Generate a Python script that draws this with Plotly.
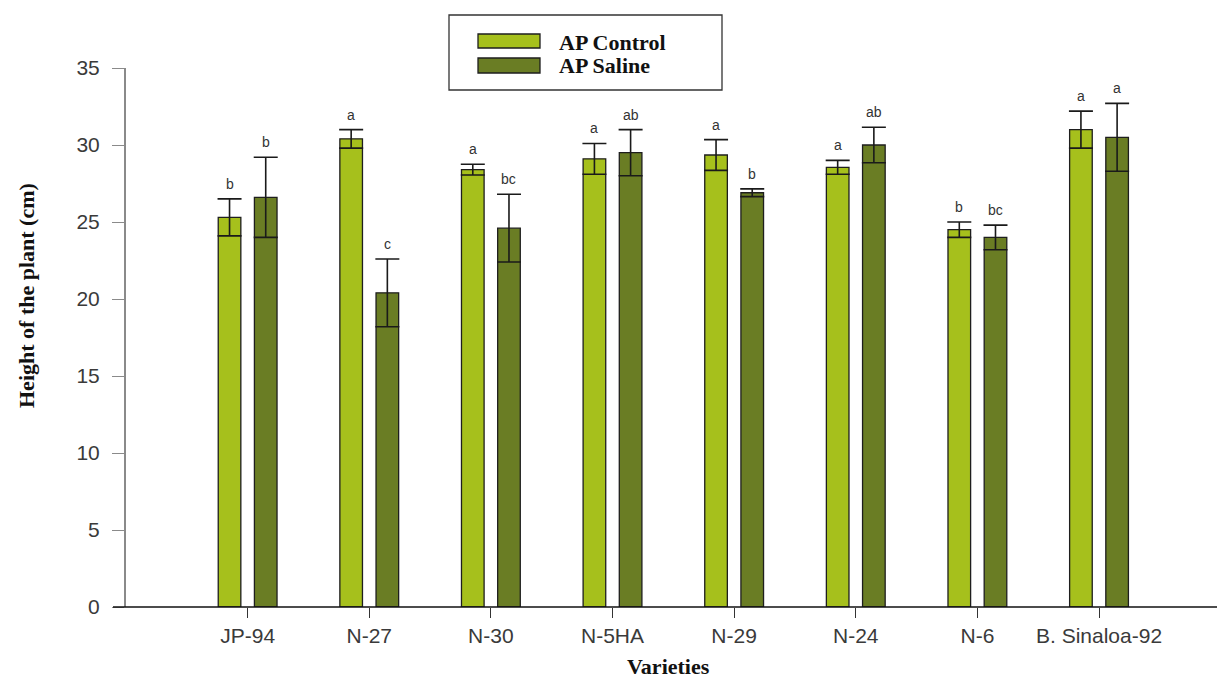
import plotly.graph_objects as go

# ---- data -------------------------------------------------------------
varieties = ["JP-94", "N-27", "N-30", "N-5HA", "N-29", "N-24", "N-6", "B. Sinaloa-92"]

control_mean = [25.3, 30.4, 28.4, 29.1, 29.35, 28.55, 24.5, 31.0]
control_err = [1.2, 0.6, 0.35, 1.0, 1.0, 0.45, 0.5, 1.2]
control_letters = ["b", "a", "a", "a", "a", "a", "b", "a"]

saline_mean = [26.6, 20.4, 24.6, 29.5, 26.9, 30.0, 24.0, 30.5]
saline_err = [2.6, 2.2, 2.2, 1.5, 0.25, 1.15, 0.8, 2.2]
saline_letters = ["b", "c", "bc", "ab", "b", "ab", "bc", "a"]

y_ticks = [0, 5, 10, 15, 20, 25, 30, 35]

# ---- style ------------------------------------------------------------
W, H = 1217, 682
M_L, M_R, M_T, M_B = 126, 0, 68, 75
CONTROL_COLOR = "#a6c01c"
SALINE_COLOR = "#6a7d24"
OUTLINE = "#1e1e1e"
BARGAP = 0.405
BARGROUPGAP = 0.375
TICK_FONT = dict(family="Liberation Sans, Arial, sans-serif", size=21, color="#3a3a3a")
SERIF_BOLD = "Liberation Serif, Times New Roman, serif"

plot_w = W - M_L - M_R
plot_h = H - M_T - M_B


def px_x(x):
    return (x - M_L) / plot_w


def px_y(y):
    return (H - M_B - y) / plot_h


fig = go.Figure()

for name, means, errs, color in [
    ("AP Control", control_mean, control_err, CONTROL_COLOR),
    ("AP Saline", saline_mean, saline_err, SALINE_COLOR),
]:
    fig.add_trace(go.Bar(
        x=varieties, y=means, name=name,
        marker=dict(color=color, line=dict(color=OUTLINE, width=1.3)),
        error_y=dict(type="data", array=errs, visible=True,
                     color="#1a1a1a", thickness=1.6, width=12),
        showlegend=False,
    ))

# significance letters above each error bar
offset = (1 - BARGAP) / 4
annotations = []
for i in range(len(varieties)):
    for sign, means, errs, letters in [(-1, control_mean, control_err, control_letters),
                                       (1, saline_mean, saline_err, saline_letters)]:
        annotations.append(dict(
            x=i + sign * offset, y=means[i] + errs[i], xref="x", yref="y",
            text=letters[i], showarrow=False, xanchor="center", yanchor="bottom", yshift=5,
            font=dict(family="Liberation Sans, Arial, sans-serif", size=14, color="#333333"),
        ))

# axis titles
annotations.append(dict(
    x=px_x(26), y=px_y(296), xref="paper", yref="paper",
    xanchor="center", yanchor="middle",
    text="<b>Height of the plant (cm)</b>", textangle=-90, showarrow=False,
    font=dict(family=SERIF_BOLD, size=22, color="#111111"),
))
annotations.append(dict(
    x=px_x(668), y=px_y(666), xref="paper", yref="paper",
    xanchor="center", yanchor="middle",
    text="<b>Varieties</b>", showarrow=False,
    font=dict(family=SERIF_BOLD, size=22, color="#111111"),
))

# legend drawn as a framed box with swatches
shapes = [
    dict(type="rect", xref="paper", yref="paper",
         x0=px_x(449), x1=px_x(722), y0=px_y(90), y1=px_y(15),
         line=dict(color="#333333", width=1.3), fillcolor="white"),
    dict(type="rect", xref="paper", yref="paper",
         x0=px_x(478), x1=px_x(540), y0=px_y(48), y1=px_y(34),
         line=dict(color=OUTLINE, width=1.3), fillcolor=CONTROL_COLOR),
    dict(type="rect", xref="paper", yref="paper",
         x0=px_x(478), x1=px_x(540), y0=px_y(73), y1=px_y(58),
         line=dict(color=OUTLINE, width=1.3), fillcolor=SALINE_COLOR),
    # baseline extends a little past the y axis
    dict(type="line", xref="paper", yref="paper",
         x0=px_x(113), x1=1, y0=0, y1=0,
         line=dict(color="#111111", width=1.6)),
]
for label, ypx in [("AP Control", 42), ("AP Saline", 65)]:
    annotations.append(dict(
        x=px_x(557), y=px_y(ypx), xref="paper", yref="paper",
        text=f"<b>{label}</b>", showarrow=False, xanchor="left", yanchor="middle",
        font=dict(family=SERIF_BOLD, size=22, color="#111111"),
    ))

fig.update_layout(
    width=W, height=H,
    margin=dict(l=M_L, r=M_R, t=M_T, b=M_B, pad=0),
    paper_bgcolor="white", plot_bgcolor="white",
    barmode="group", bargap=BARGAP, bargroupgap=BARGROUPGAP,
    annotations=annotations, shapes=shapes,
    xaxis=dict(
        type="category", range=[-1.0, 7.97],
        showline=False, showgrid=False, zeroline=False,
        ticks="outside", ticklen=10, tickwidth=1.3, tickcolor="#333333",
        tickfont=TICK_FONT,
    ),
    yaxis=dict(
        range=[0, 35], tickvals=y_ticks,
        showline=True, linecolor="#8a8a8a", linewidth=2,
        showgrid=False, zeroline=False,
        ticks="outside", ticklen=12, tickwidth=1.3, tickcolor="#8a8a8a",
        tickfont=TICK_FONT, ticklabelstandoff=8,
    ),
    font=TICK_FONT,
)

fig.write_html("out.html")
